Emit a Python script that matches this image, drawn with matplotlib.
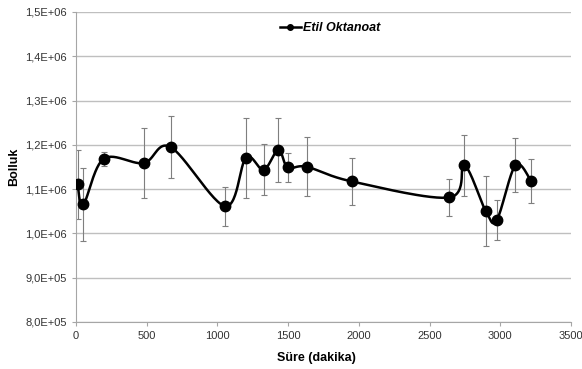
import numpy as np
import matplotlib.pyplot as plt
from matplotlib.ticker import FuncFormatter, MultipleLocator

plt.rcParams['font.family'] = ['Liberation Sans', 'DejaVu Sans']

# data
sure = [12, 52, 196, 478, 669, 1056, 1202, 1327, 1431, 1497, 1631,
        1950, 2640, 2746, 2897, 2975, 3107, 3218]
bolluk = [1.1106e6, 1.0654e6, 1.1686e6, 1.1588e6, 1.1950e6, 1.0615e6,
          1.1708e6, 1.1437e6, 1.1890e6, 1.1490e6, 1.1505e6, 1.1174e6,
          1.0812e6, 1.1536e6, 1.0510e6, 1.0299e6, 1.1536e6, 1.1188e6]
hata = [77000, 82000, 16000, 79000, 70000, 44000, 90000, 58000, 72000,
        33000, 67000, 54000, 41000, 68000, 79000, 45000, 61000, 50000]

xmin, xmax = 0, 3500
ymin, ymax = 8.0e5, 1.5e6

fig = plt.figure(figsize=(5.82, 3.69), dpi=100)
ax = fig.add_axes([0.1306, 0.1274, 0.981 - 0.1306, 0.9675 - 0.1274])


def smooth(xs, ys, n=30):
    # excel-like smoothed line (catmull-rom bezier) in screen-ish units
    sx = 495.0 / (xmax - xmin)
    sy = 310.0 / (ymax - ymin)
    p = np.column_stack([np.asarray(xs) * sx, np.asarray(ys) * sy])
    out = []
    for i in range(len(p) - 1):
        p0 = p[i - 1] if i > 0 else p[i]
        p1 = p[i]
        p2 = p[i + 1]
        p3 = p[i + 2] if i + 2 < len(p) else p[i + 1]
        c1 = p1 + (p2 - p0) / 6.0
        c2 = p2 - (p3 - p1) / 6.0
        t = np.linspace(0, 1, n)[:, None]
        seg = ((1 - t) ** 3) * p1 + 3 * ((1 - t) ** 2) * t * c1 \
            + 3 * (1 - t) * t ** 2 * c2 + t ** 3 * p2
        out.append(seg if i == 0 else seg[1:])
    out = np.vstack(out)
    return out[:, 0] / sx, out[:, 1] / sy


cx, cy = smooth(sure, bolluk)

ax.errorbar(sure, bolluk, yerr=hata, fmt='none', ecolor='#7f7f7f',
            elinewidth=0.8, capsize=2.5, capthick=0.8, zorder=2)
ax.plot(cx, cy, color='black', linewidth=1.8, zorder=3)
ax.plot(sure, bolluk, 'o', color='black', markersize=7.5, zorder=4)

# legend handle
ax.plot([], [], '-o', color='black', linewidth=1.8, markersize=4,
        label='Etil Oktanoat')
leg = ax.legend(loc='center', bbox_to_anchor=(0.567, 0.924),
                bbox_transform=fig.transFigure, frameon=False,
                handlelength=1.7, handletextpad=0.15,
                prop={'weight': 'bold', 'style': 'italic', 'size': 9})

ax.set_xlim(xmin, xmax)
ax.set_ylim(ymin, ymax)
ax.xaxis.set_major_locator(MultipleLocator(500))
ax.yaxis.set_major_locator(MultipleLocator(1e5))
ax.yaxis.set_major_formatter(FuncFormatter(lambda v, p: f"{v:.1E}".replace('.', ',')))

ax.grid(axis='y', color='#bfbfbf', linewidth=1.0)
ax.set_axisbelow(True)
for s in ['top', 'right']:
    ax.spines[s].set_visible(False)
for s in ['left', 'bottom']:
    ax.spines[s].set_color('#a6a6a6')
    ax.spines[s].set_linewidth(0.8)
ax.tick_params(axis='both', colors='#a6a6a6', labelcolor='#333333',
               labelsize=8, length=3, width=0.8)

fig.text(316 / 582, 1 - 358 / 369, 'Süre (dakika)', fontsize=9,
         fontweight='bold', ha='center', va='center')
ax.set_ylabel('Bolluk', fontsize=9, fontweight='bold', labelpad=4)

fig.savefig('out.png', dpi=100)
